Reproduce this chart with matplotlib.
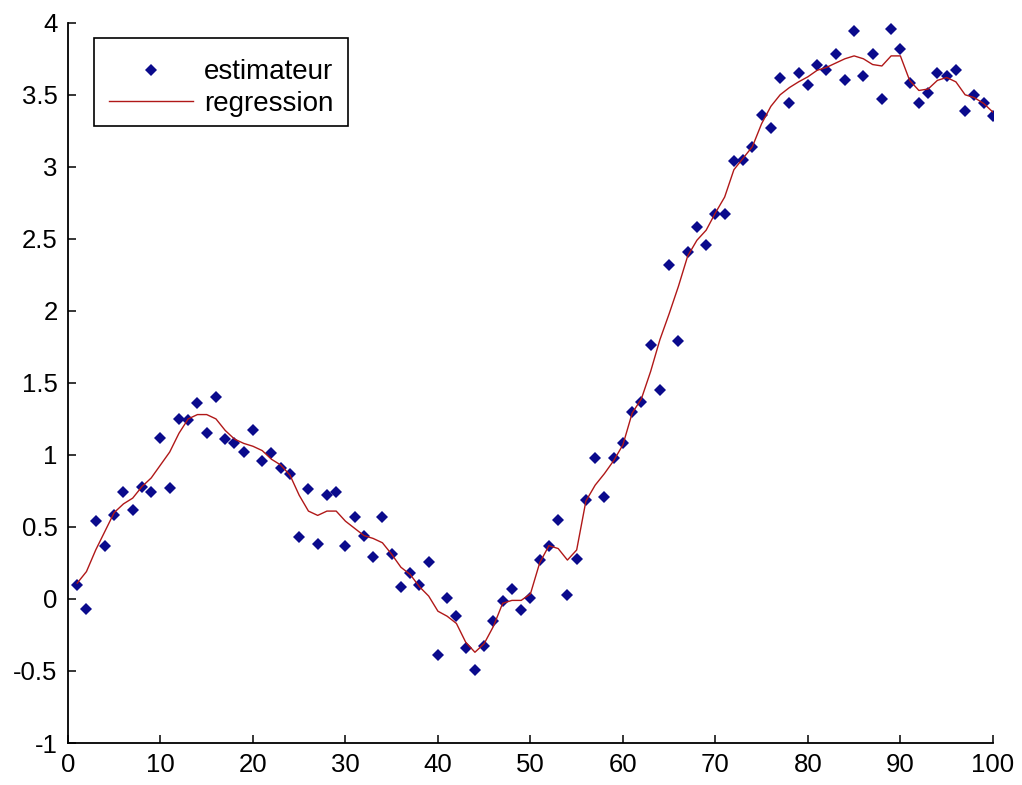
import numpy as np
import matplotlib
matplotlib.use("Agg")
import matplotlib.pyplot as plt

# -------------------------------------------------------
# Donnees
# -------------------------------------------------------

x = np.arange(1, 101)

estimateur = [
    0.10, -0.07, 0.54, 0.37, 0.58, 0.74, 0.62, 0.78, 0.74, 1.12,
    0.77, 1.25, 1.24, 1.36, 1.155, 1.40, 1.11, 1.08, 1.02, 1.17,
    0.96, 1.01, 0.91, 0.87, 0.43, 0.76, 0.38, 0.72, 0.74, 0.37,
    0.57, 0.44, 0.29, 0.57, 0.31, 0.085, 0.18, 0.10, 0.26, -0.39,
    0.01, -0.12, -0.34, -0.49, -0.33, -0.15, -0.015, 0.07, -0.08, 0.01,
    0.27, 0.37, 0.55, 0.03, 0.28, 0.69, 0.98, 0.71, 0.98, 1.08,
    1.30, 1.37, 1.76, 1.45, 2.32, 1.79, 2.41, 2.58, 2.46, 2.67,
    2.67, 3.04, 3.05, 3.14, 3.36, 3.27, 3.62, 3.44, 3.65, 3.57,
    3.71, 3.67, 3.78, 3.60, 3.94, 3.63, 3.78, 3.47, 3.96, 3.82,
    3.58, 3.44, 3.51, 3.65, 3.63, 3.67, 3.39, 3.50, 3.44, 3.35,
]

regression = [
    0.11, 0.19, 0.34, 0.47, 0.60, 0.66, 0.70, 0.78, 0.84, 0.93,
    1.02, 1.15, 1.25, 1.28, 1.28, 1.25, 1.17, 1.11, 1.08, 1.06,
    1.03, 0.97, 0.93, 0.86, 0.72, 0.61, 0.58, 0.61, 0.61, 0.54,
    0.49, 0.44, 0.42, 0.39, 0.31, 0.22, 0.17, 0.085, 0.02, -0.085,
    -0.12, -0.17, -0.30, -0.37, -0.31, -0.19, -0.03, -0.01, -0.01, 0.035,
    0.25, 0.37, 0.35, 0.27, 0.34, 0.68, 0.79, 0.87, 0.96, 1.07,
    1.29, 1.39, 1.58, 1.80, 1.98, 2.17, 2.38, 2.49, 2.56, 2.68,
    2.79, 2.98, 3.06, 3.14, 3.30, 3.42, 3.50, 3.55, 3.59, 3.625,
    3.67, 3.69, 3.72, 3.75, 3.77, 3.75, 3.71, 3.70, 3.77, 3.77,
    3.60, 3.53, 3.54, 3.60, 3.62, 3.59, 3.50, 3.48, 3.44, 3.38,
]

xticks = np.arange(0, 101, 10)
yticks = np.arange(-1, 4.01, 0.5)
ytick_labels = ["-1", "-0.5", "0", "0.5", "1", "1.5", "2", "2.5", "3", "3.5", "4"]

# -------------------------------------------------------
# Figure
# -------------------------------------------------------

plt.rcParams["font.family"] = ["Liberation Sans", "DejaVu Sans"]

fig = plt.figure(figsize=(10.22, 7.85), dpi=100)
ax = fig.add_axes([0.0665, 0.0535, 0.905, 0.9175])

ax.plot(x, estimateur, "D", color="#0a0a8c", markersize=6,
        markeredgewidth=0, label="estimateur")
ax.plot(x, regression, "-", color="#b01818", linewidth=1.0,
        label="regression")

ax.set_xlim(0, 100)
ax.set_ylim(-1, 4)
ax.set_xticks(xticks)
ax.set_yticks(yticks)
ax.set_yticklabels(ytick_labels)

ax.spines["top"].set_visible(False)
ax.spines["right"].set_visible(False)
ax.spines["left"].set_linewidth(1.3)
ax.spines["bottom"].set_linewidth(1.3)
ax.tick_params(direction="in", length=6, width=1.1, labelsize=18.5, pad=7.5)

leg = ax.legend(loc="upper left", bbox_to_anchor=(0.0281, 0.979),
                borderaxespad=0, fancybox=False, edgecolor="black",
                framealpha=1, fontsize=20, handlelength=3.0,
                borderpad=0.55, labelspacing=0.2, handletextpad=0.4)
leg.get_frame().set_linewidth(1.2)

# contenu de la legende un peu plus bas dans le cadre
for t in leg.get_texts():
    t.set_y(-6)
for h in leg.legend_handles:
    h.set_ydata(np.asarray(h.get_ydata()) - 4.5)

fig.savefig("out.png", dpi=100)
